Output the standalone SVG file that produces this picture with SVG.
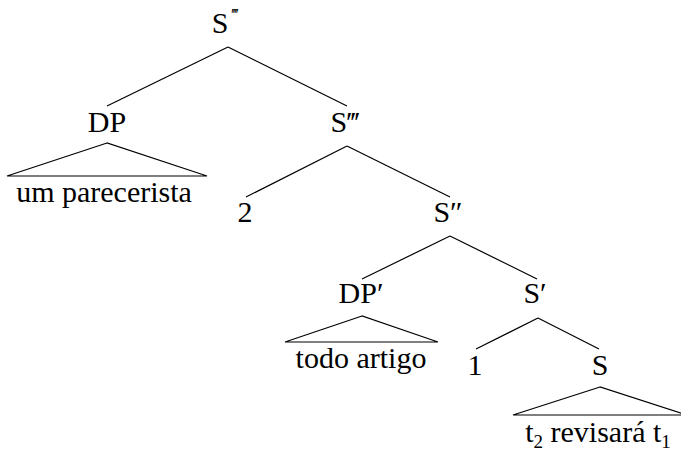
<svg xmlns="http://www.w3.org/2000/svg" width="681" height="453" viewBox="0 0 681 453">
<rect width="681" height="453" fill="#fff"/>
<g id="connectors" stroke="#000" stroke-width="1.2" fill="none">
<line x1="228" y1="47" x2="107" y2="106"/>
<line x1="228" y1="47" x2="347" y2="106"/>
<line x1="347" y1="146" x2="246" y2="197"/>
<line x1="347" y1="146" x2="450" y2="197"/>
<line x1="450" y1="236" x2="362" y2="279"/>
<line x1="450" y1="236" x2="537" y2="279"/>
<line x1="538" y1="318" x2="476" y2="349"/>
<line x1="538" y1="318" x2="599" y2="349"/>
</g>
<g id="n-s4"><text x="220" y="33" font-size="30" font-family="Liberation Serif" text-anchor="middle">S</text><text x="234" y="20" font-size="16" font-family="Liberation Serif" text-anchor="middle" letter-spacing="-2">&#8242;&#8242;&#8242;&#8242;</text></g>
<g id="n-dp"><text x="107" y="132" font-size="30" font-family="Liberation Serif" text-anchor="middle">DP</text></g>
<g id="n-dp-roof"><polygon points="107,143 7,176 207,176" stroke="#000" stroke-width="1.2" fill="none"/><text x="104" y="202" font-size="30" font-family="Liberation Serif" text-anchor="middle">um parecerista</text></g>
<g id="n-s3"><text x="345" y="132" font-size="30" font-family="Liberation Serif" text-anchor="middle">S&#8244;</text></g>
<g id="n-2"><text x="245" y="222" font-size="30" font-family="Liberation Serif" text-anchor="middle">2</text></g>
<g id="n-s2"><text x="448" y="222" font-size="30" font-family="Liberation Serif" text-anchor="middle">S&#8243;</text></g>
<g id="n-dp1"><text x="361" y="303" font-size="30" font-family="Liberation Serif" text-anchor="middle">DP&#8242;</text></g>
<g id="n-dp1-roof"><polygon points="362,316 285,342 438,342" stroke="#000" stroke-width="1.2" fill="none"/><text x="361" y="368" font-size="30" font-family="Liberation Serif" text-anchor="middle">todo artigo</text></g>
<g id="n-s1"><text x="535" y="303" font-size="30" font-family="Liberation Serif" text-anchor="middle">S&#8242;</text></g>
<g id="n-1"><text x="475" y="375" font-size="30" font-family="Liberation Serif" text-anchor="middle">1</text></g>
<g id="n-s"><text x="600" y="375" font-size="30" font-family="Liberation Serif" text-anchor="middle">S</text></g>
<g id="n-s-roof"><polygon points="600,387 513,415 687,415" stroke="#000" stroke-width="1.2" fill="none"/><text x="598" y="442" font-size="30" font-family="Liberation Serif" text-anchor="middle">t<tspan font-size="19" dy="6">2</tspan><tspan dy="-6"> revisar&#225; t</tspan><tspan font-size="19" dy="6">1</tspan></text></g>
</svg>
